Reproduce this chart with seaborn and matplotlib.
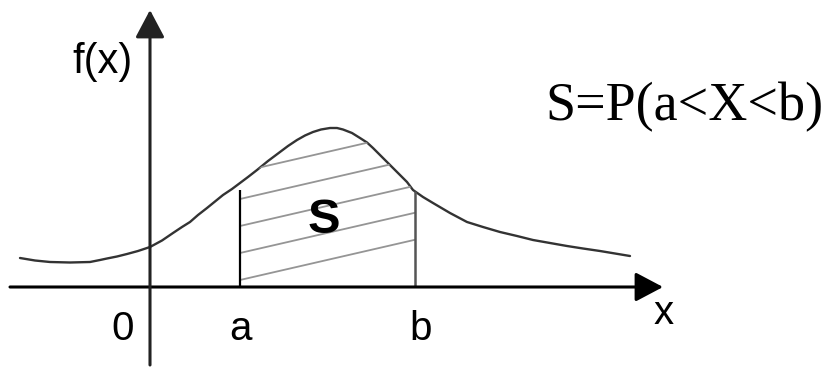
import numpy as np
import pandas as pd
import seaborn as sns
import matplotlib.pyplot as plt

# density curve
curve_x = [-1.30, -1.15, -1.00, -0.80, -0.60, -0.50, -0.43, -0.33, -0.23, -0.12,
           0.00, 0.12, 0.23, 0.32, 0.40, 0.48, 0.57, 0.65, 0.73, 0.82,
           0.90, 0.98, 1.07, 1.18, 1.30, 1.38, 1.47, 1.55, 1.63, 1.71,
           1.80, 1.87, 1.93, 2.02, 2.10, 2.17, 2.23, 2.30, 2.37, 2.43,
           2.50, 2.57, 2.63, 2.73, 2.83, 3.00, 3.17, 3.33, 3.50, 3.67,
           3.83, 4.00, 4.17, 4.33, 4.50, 4.65, 4.80]
curve_y = [0.29, 0.265, 0.25, 0.245, 0.25, 0.27, 0.285, 0.305, 0.33, 0.36,
           0.40, 0.465, 0.54, 0.60, 0.65, 0.72, 0.79, 0.855, 0.92, 0.98,
           1.04, 1.10, 1.17, 1.26, 1.35, 1.41, 1.47, 1.515, 1.55, 1.575,
           1.59, 1.59, 1.575, 1.54, 1.49, 1.445, 1.39, 1.32, 1.25, 1.19,
           1.12, 1.05, 0.97, 0.90, 0.84, 0.74, 0.65, 0.60, 0.55, 0.51,
           0.47, 0.44, 0.41, 0.385, 0.36, 0.335, 0.31]
a_val = 0.9
b_val = 2.65
tick_labels = {"0": -0.27, "a": 0.9, "b": 2.71}

df = pd.DataFrame({"x": curve_x, "y": curve_y})

sns.set_theme(style="white")
plt.rcParams["font.family"] = ["Liberation Sans", "DejaVu Sans"]

fig = plt.figure(figsize=(8.38, 3.67), dpi=100)
ax = fig.add_axes([0, 0, 1, 1])
ax.set_xlim(-1.5, 6.88)
ax.set_ylim(-0.8, 2.87)
ax.set_axis_off()

# axes with arrows
arrow = dict(arrowstyle="-|>,head_length=0.85,head_width=0.45", lw=2.2,
             color="black", mutation_scale=20, shrinkA=0, shrinkB=0)
ax.annotate("", xy=(5.13, 0), xytext=(-1.40, 0), arrowprops=arrow)
ax.annotate("", xy=(0, 2.77), xytext=(0, -0.78), arrowprops=dict(arrow, color="#222222"))

# curve
sns.lineplot(data=df, x="x", y="y", sort=False, color="#333333", lw=1.7, ax=ax)

# shaded region between a and b
mask = (df["x"] >= a_val) & (df["x"] <= b_val)
reg_x = np.concatenate([[a_val], df["x"][mask], [b_val]])
reg_y = np.concatenate([[np.interp(a_val, curve_x, curve_y)], df["y"][mask],
                        [np.interp(b_val, curve_x, curve_y)]])
poly = ax.fill_between(reg_x, 0, reg_y, facecolor="none", edgecolor="none")
clip = poly.get_paths()[0]

hx = np.array([a_val - 0.2, b_val + 0.2])
for off in np.arange(0.07, 1.8, 0.27):
    ln, = ax.plot(hx, off + 0.23 * (hx - a_val), color="#959595", lw=1.3)
    ln.set_clip_path(clip, ax.transData)

ax.vlines(a_val, 0, reg_y[0] - 0.07, color="black", lw=1.6)
ax.vlines(b_val, 0, reg_y[-1], color="#555555", lw=1.8)

# labels
for lab, xv in tick_labels.items():
    ax.text(xv, -0.53, lab, fontsize=29, ha="center", va="baseline", color="black")
ax.text(5.14, -0.37, "x", fontsize=29, ha="center", va="baseline", color="black")
ax.text(-0.48, 2.14, "f(x)", fontsize=30, ha="center", va="baseline", color="black")
ax.text(1.74, 0.54, "S", fontsize=35, fontweight="bold", ha="center", va="baseline", color="black")
ax.text(3.95, 1.67, "S=P(a<X<b)", fontsize=39, family=["Liberation Serif", "DejaVu Serif"],
        ha="left", va="baseline", color="black")

fig.savefig("out.png", dpi=100)
